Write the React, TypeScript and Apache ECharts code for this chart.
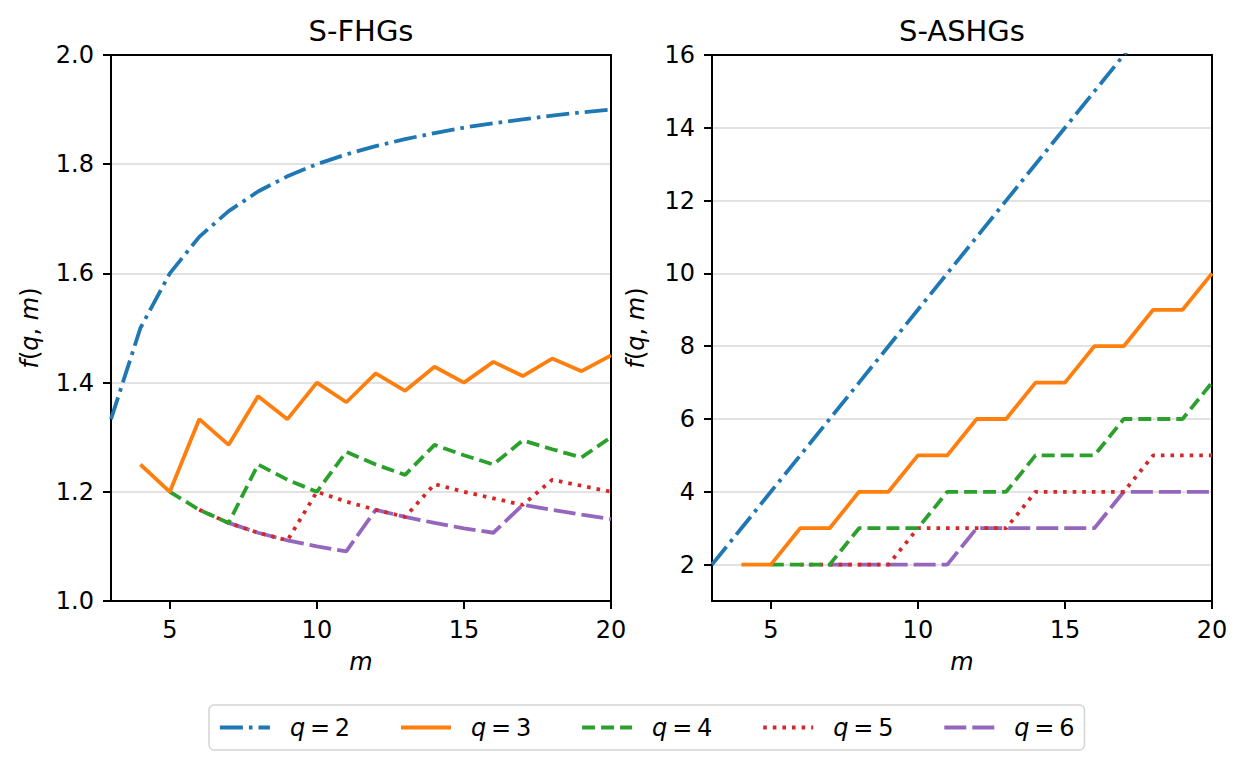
import React, { useEffect, useRef } from "react";
import * as echarts from "echarts";

const mValues = [3, 4, 5, 6, 7, 8, 9, 10, 11, 12, 13, 14, 15, 16, 17, 18, 19, 20];
const seriesNames = ["q = 2", "q = 3", "q = 4", "q = 5", "q = 6"];
const colors = ["#1f77b4", "#ff7f0e", "#2ca02c", "#d62728", "#9467bd"];

const leftQ2 = [1.333, 1.5, 1.6, 1.667, 1.714, 1.75, 1.778, 1.8, 1.818, 1.833, 1.846, 1.857, 1.867, 1.875, 1.882, 1.889, 1.895, 1.9];
const leftQ3 = [null, 1.25, 1.2, 1.333, 1.286, 1.375, 1.333, 1.4, 1.364, 1.417, 1.385, 1.429, 1.4, 1.438, 1.412, 1.444, 1.421, 1.45];
const leftQ4 = [null, null, 1.2, 1.167, 1.143, 1.25, 1.222, 1.2, 1.273, 1.25, 1.231, 1.286, 1.267, 1.25, 1.294, 1.278, 1.263, 1.3];
const leftQ5 = [null, null, null, 1.167, 1.143, 1.125, 1.111, 1.2, 1.182, 1.167, 1.154, 1.214, 1.2, 1.188, 1.176, 1.222, 1.211, 1.2];
const leftQ6 = [null, null, null, null, 1.143, 1.125, 1.111, 1.1, 1.091, 1.167, 1.154, 1.143, 1.133, 1.125, 1.176, 1.167, 1.158, 1.15];

const rightQ2 = [2, 3, 4, 5, 6, 7, 8, 9, 10, 11, 12, 13, 14, 15, 16, 17, 18, 19];
const rightQ3 = [null, 2, 2, 3, 3, 4, 4, 5, 5, 6, 6, 7, 7, 8, 8, 9, 9, 10];
const rightQ4 = [null, null, 2, 2, 2, 3, 3, 3, 4, 4, 4, 5, 5, 5, 6, 6, 6, 7];
const rightQ5 = [null, null, null, 2, 2, 2, 2, 3, 3, 3, 3, 4, 4, 4, 4, 5, 5, 5];
const rightQ6 = [null, null, null, null, 2, 2, 2, 2, 2, 3, 3, 3, 3, 3, 4, 4, 4, 4];

const xTicks = [5, 10, 15, 20];
const rightYTicks = [2, 4, 6, 8, 10, 12, 14, 16];
const titles = ["S-FHGs", "S-ASHGs"];

const FONT = "DejaVu Sans";
const TICK_FS = 24;
const dashTypes: any[] = [[23, 6, 3.6, 6], "solid", [13, 6], [3.6, 6], [22, 6]];

export default function App() {
  const ref = useRef<HTMLDivElement>(null);
  useEffect(() => {
    document.body.style.margin = "0";
    const chart = echarts.init(ref.current!, null, { renderer: "svg" });
    const leftData = [leftQ2, leftQ3, leftQ4, leftQ5, leftQ6];
    const rightData = [rightQ2, rightQ3, rightQ4, rightQ5, rightQ6];

    const axisLineStyle = { show: true, lineStyle: { color: "#000", width: 2 } };
    const tickStyle = { show: true, inside: false, length: 8, lineStyle: { color: "#000", width: 2 } };
    const labelStyle = { color: "#000", fontSize: TICK_FS, fontFamily: FONT };

    const xAxisDef = (gridIndex: number) => ({
      type: "value",
      gridIndex,
      min: 3,
      max: 20,
      axisLine: axisLineStyle,
      axisTick: { ...tickStyle, customValues: xTicks },
      axisLabel: { ...labelStyle, customValues: xTicks, margin: 17 },
      splitLine: { show: false },
      name: "m",
      nameLocation: "middle",
      nameGap: 49,
      nameTextStyle: { color: "#000", fontSize: TICK_FS, fontStyle: "italic", fontFamily: FONT },
    });

    const frameX = (gridIndex: number) => ({
      type: "value",
      gridIndex,
      position: "top",
      min: 3,
      max: 20,
      z: 5,
      axisLine: axisLineStyle,
      axisTick: { show: false },
      axisLabel: { show: false },
      splitLine: { show: false },
    });
    const frameY = (gridIndex: number, min: number, max: number) => ({
      type: "value",
      gridIndex,
      position: "right",
      min,
      max,
      z: 5,
      axisLine: axisLineStyle,
      axisTick: { show: false },
      axisLabel: { show: false },
      splitLine: { show: false },
    });

    const yName = "{i|f}{n|(}{i|q}{n|, }{i|m}{n|)}";
    const yNameStyle = (gap: number) => ({
      name: yName,
      nameLocation: "middle",
      nameGap: gap,
      nameTextStyle: {
        color: "#000",
        fontSize: TICK_FS,
        fontFamily: FONT,
        rich: {
          i: { fontStyle: "italic", fontSize: TICK_FS, fontFamily: FONT, color: "#000" },
          n: { fontSize: TICK_FS, fontFamily: FONT, color: "#000" },
        },
      },
    });

    const series: any[] = [];
    for (let k = 0; k < 5; k++) {
      series.push({
        type: "line",
        name: seriesNames[k],
        xAxisIndex: 0,
        yAxisIndex: 0,
        data: mValues.map((m, i) => [m, leftData[k][i]]),
        symbol: "none",
        color: colors[k],
        lineStyle: { color: colors[k], width: 3.8, type: dashTypes[k], cap: "butt" },
        z: 10 - k,
      });
      series.push({
        type: "line",
        name: seriesNames[k],
        xAxisIndex: 1,
        yAxisIndex: 1,
        data: mValues.map((m, i) => [m, rightData[k][i]]),
        symbol: "none",
        color: colors[k],
        lineStyle: { color: colors[k], width: 3.8, type: dashTypes[k], cap: "butt" },
        z: 10 - k,
      });
    }

    chart.setOption({
      animation: false,
      backgroundColor: "#fff",
      textStyle: { fontFamily: FONT },
      graphic: [
        { type: "text", x: 361, y: 31, style: { text: titles[0], fontSize: 29, fontFamily: FONT, fill: "#000", textAlign: "center", textVerticalAlign: "middle" } },
        { type: "text", x: 962, y: 31, style: { text: titles[1], fontSize: 29, fontFamily: FONT, fill: "#000", textAlign: "center", textVerticalAlign: "middle" } },
      ],
      grid: [
        { left: 111, top: 55, width: 500, height: 546 },
        { left: 712, top: 55, width: 500, height: 546 },
      ],
      xAxis: [xAxisDef(0), xAxisDef(1), frameX(0), frameX(1)],
      yAxis: [
        {
          type: "value",
          gridIndex: 0,
          min: 1,
          max: 2,
          interval: 0.2,
          axisLine: axisLineStyle,
          axisTick: tickStyle,
          axisLabel: { ...labelStyle, margin: 17, formatter: (v: number) => v.toFixed(1) },
          splitLine: { show: true, lineStyle: { color: "#d9d9d9", width: 1.5 } },
          ...yNameStyle(69),
        },
        {
          type: "value",
          gridIndex: 1,
          min: 1,
          max: 16,
          axisLine: axisLineStyle,
          axisTick: { ...tickStyle, customValues: rightYTicks },
          axisLabel: { ...labelStyle, margin: 17, customValues: rightYTicks },
          splitLine: { show: true, lineStyle: { color: "#d9d9d9", width: 1.5 } },
          ...yNameStyle(64),
        },
        frameY(0, 1, 2),
        frameY(1, 1, 16),
      ],
      legend: {
        data: seriesNames,
        left: 209,
        top: 705,
        orient: "horizontal",
        padding: [9, 10, 9, 9],
        itemWidth: 50,
        itemHeight: 14,
        itemGap: 49,
        borderColor: "#d4d4d4",
        borderWidth: 1.5,
        borderRadius: 5,
        backgroundColor: "#fff",
        itemStyle: { opacity: 0 },
        lineStyle: { width: 3.8 },
        formatter: (name: string) => `{i|q}{n|\u2009=\u2009${name.split("=")[1].trim()}}`,
        textStyle: {
          color: "#000",
          fontSize: TICK_FS,
          fontFamily: FONT,
          lineHeight: 27,
          rich: {
            i: { fontStyle: "italic", fontSize: TICK_FS, fontFamily: FONT, color: "#000", padding: [0, 0, 0, 15], lineHeight: 27 },
            n: { fontSize: TICK_FS, fontFamily: FONT, color: "#000", lineHeight: 27 },
          },
        },
      },
      series,
    });
    return () => chart.dispose();
  }, []);
  return <div ref={ref} style={{ width: 1246, height: 771 }} />;
}
